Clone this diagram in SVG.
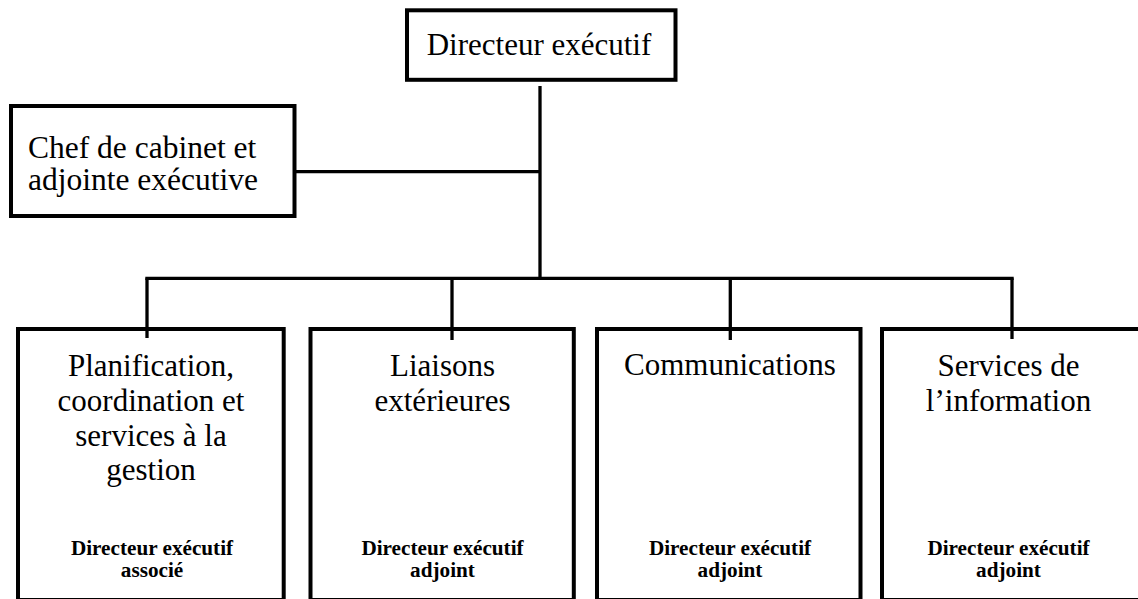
<svg xmlns="http://www.w3.org/2000/svg" width="1138" height="599" viewBox="0 0 1138 599">
<style>
.box{fill:#fff;stroke:#000;stroke-width:4}
.ln{fill:none;stroke:#000;stroke-width:3.3}
.t{font-family:"Liberation Serif","Times New Roman",serif;font-size:31px;fill:#000}
.c{text-anchor:middle}
.ch{font-size:31.5px}
.b{font-family:"Liberation Serif","Times New Roman",serif;font-size:21.2px;font-weight:bold;fill:#000;text-anchor:middle}
</style>
<rect width="1138" height="599" fill="#fff"/>
<g id="n-directeur">
<rect class="box" x="407" y="10.3" width="268.5" height="69.5"/>
<text class="t c" x="539" y="54.5">Directeur exécutif</text>
</g>
<g id="n-chef">
<rect class="box" x="11" y="106" width="283.5" height="110"/>
<text class="t ch" x="28" y="158.3">Chef de cabinet et</text>
<text class="t ch" x="28" y="190">adjointe exécutive</text>
</g>
<g id="n-planification">
<rect class="box" x="18" y="329" width="265.7" height="271"/>
<text class="t c" x="151" y="376">Planification,</text>
<text class="t c" x="151" y="411">coordination et</text>
<text class="t c" x="151" y="445.5">services à la</text>
<text class="t c" x="151" y="480">gestion</text>
<text class="b" x="152" y="555">Directeur exécutif</text>
<text class="b" x="152" y="577">associé</text>
</g>
<g id="n-liaisons">
<rect class="box" x="310.5" y="329" width="263.3" height="271"/>
<text class="t c" x="442.5" y="376">Liaisons</text>
<text class="t c" x="442.5" y="411">extérieures</text>
<text class="b" x="442.5" y="555">Directeur exécutif</text>
<text class="b" x="442.5" y="577">adjoint</text>
</g>
<g id="n-communications">
<rect class="box" x="597" y="329" width="263.5" height="271"/>
<text class="t c" x="730" y="375">Communications</text>
<text class="b" x="730" y="555">Directeur exécutif</text>
<text class="b" x="730" y="577">adjoint</text>
</g>
<g id="n-information">
<rect class="box" x="882" y="329" width="262" height="271"/>
<text class="t c" x="1008.5" y="376">Services de</text>
<text class="t c" x="1008.5" y="411">l’information</text>
<text class="b" x="1008.5" y="555">Directeur exécutif</text>
<text class="b" x="1008.5" y="577">adjoint</text>
</g>
<g id="connectors">
<line class="ln" x1="540" y1="86" x2="540" y2="278.3"/>
<line class="ln" x1="294.5" y1="171.7" x2="540" y2="171.7"/>
<line class="ln" x1="145.3" y1="278.3" x2="1013.7" y2="278.3"/>
<line class="ln" x1="147" y1="278.3" x2="147" y2="338"/>
<line class="ln" x1="452" y1="278.3" x2="452" y2="340"/>
<line class="ln" x1="730.3" y1="278.3" x2="730.3" y2="340"/>
<line class="ln" x1="1012" y1="278.3" x2="1012" y2="339"/>
</g>
</svg>
